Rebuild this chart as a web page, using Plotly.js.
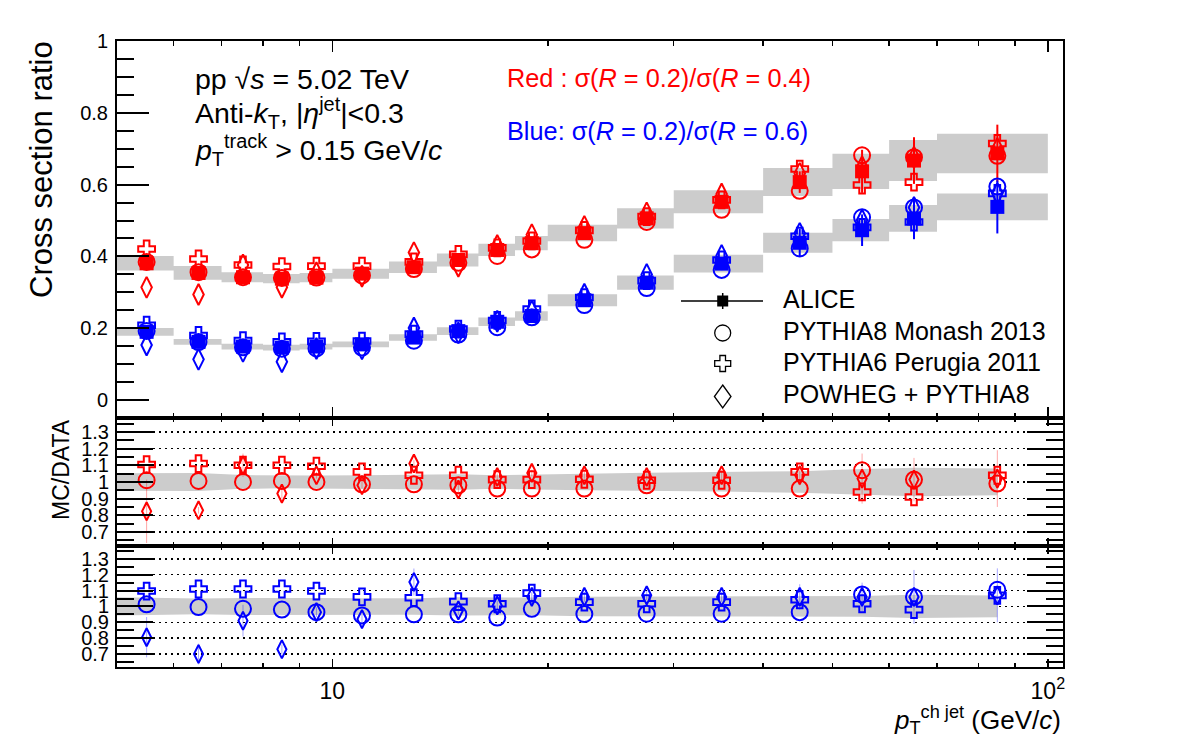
<!DOCTYPE html>
<html>
<head>
<meta charset="utf-8">
<script src="https://cdn.plot.ly/plotly-3.0.1.min.js"></script>
<style>
  html, body { margin: 0; padding: 0; background: #fff; }
  #chart { width: 1182px; height: 748px; }
</style>
</head>
<body>
<div id="chart"></div>
<script>
// Charged-jet pT bins (GeV/c)
const binLo    = [5, 6, 7, 8, 9, 10, 12, 14, 16, 18, 20, 25, 30, 40, 50, 60, 70];
const binHi    = [6, 7, 8, 9, 10, 12, 14, 16, 18, 20, 25, 30, 40, 50, 60, 70, 100];
const ptCenter = [5.5, 6.5, 7.5, 8.5, 9.5, 11, 13, 15, 17, 19, 22.5, 27.5, 35, 45, 55, 65, 85];

// ALICE: sigma(R=0.2)/sigma(R=0.4)
const aliceR04     = [0.381, 0.354, 0.342, 0.338, 0.341, 0.352, 0.370, 0.390, 0.418, 0.437, 0.465, 0.506, 0.552, 0.607, 0.637, 0.667, 0.687];
const aliceR04Stat = [0.004, 0.004, 0.004, 0.004, 0.004, 0.005, 0.006, 0.007, 0.008, 0.009, 0.010, 0.012, 0.016, 0.030, 0.060, 0.065, 0.080];
const aliceR04Sys  = [0.020, 0.019, 0.014, 0.013, 0.013, 0.014, 0.016, 0.018, 0.017, 0.020, 0.023, 0.028, 0.032, 0.039, 0.049, 0.057, 0.055];

// ALICE: sigma(R=0.2)/sigma(R=0.6)
const aliceR06     = [0.190, 0.162, 0.149, 0.146, 0.149, 0.155, 0.174, 0.192, 0.218, 0.234, 0.278, 0.327, 0.380, 0.438, 0.473, 0.506, 0.538];
const aliceR06Stat = [0.003, 0.003, 0.003, 0.003, 0.003, 0.004, 0.005, 0.006, 0.007, 0.008, 0.010, 0.012, 0.018, 0.039, 0.044, 0.058, 0.074];
const aliceR06Sys  = [0.011, 0.008, 0.008, 0.008, 0.008, 0.008, 0.009, 0.011, 0.012, 0.013, 0.017, 0.020, 0.025, 0.028, 0.031, 0.037, 0.037];

// MC / data, R=0.2 over R=0.4
const pythia8R04 = [1.010, 1.006, 1.000, 1.006, 1.000, 0.986, 0.986, 0.980, 0.960, 0.960, 0.960, 0.980, 0.960, 0.960, 1.070, 1.014, 0.990];
const pythia6R04 = [1.104, 1.110, 1.100, 1.100, 1.094, 1.060, 1.040, 1.040, 1.014, 1.014, 1.016, 1.010, 1.010, 1.060, 0.940, 0.910, 1.040];
const powhegR04  = [0.824, 0.830, 1.100, 0.930, 1.040, 0.980, 1.110, 0.955, 1.030, 1.054, 1.040, 1.030, 1.040, 1.040, 1.020, 1.014, 1.020];
const powhegR04Err = [0.190, 0.020, 0.070, 0.030, 0.020, 0.020, 0.020, 0.030, 0.020, 0.020, 0.020, 0.020, 0.030, 0.060, 0.150, 0.130, 0.170];

// MC / data, R=0.2 over R=0.6
const pythia8R06 = [1.013, 0.996, 0.985, 0.980, 0.964, 0.943, 0.950, 0.950, 0.930, 0.985, 0.952, 0.954, 0.954, 0.964, 1.076, 1.060, 1.105];
const pythia6R06 = [1.097, 1.110, 1.110, 1.110, 1.097, 1.060, 1.055, 1.030, 1.017, 1.084, 1.027, 1.017, 1.027, 1.042, 1.017, 0.980, 1.070];
const powhegR06  = [0.806, 0.700, 0.910, 0.730, 0.964, 0.920, 1.154, 0.975, 1.006, 1.060, 1.060, 1.070, 1.060, 1.060, 1.060, 1.060, 1.070];
const powhegR06Err = [0.127, 0.065, 0.100, 0.030, 0.030, 0.030, 0.085, 0.030, 0.030, 0.030, 0.030, 0.030, 0.030, 0.080, 0.090, 0.170, 0.170];

// Axis ticks and labels
const mainTickVals  = [0, 0.2, 0.4, 0.6, 0.8, 1];
const mainTickText  = ['0', '0.2', '0.4', '0.6', '0.8', '1'];
const ratioTickVals = [0.7, 0.8, 0.9, 1.0, 1.1, 1.2, 1.3];
const ratioTickText = ['0.7', '0.8', '0.9', '1', '1.1', '1.2', '1.3'];
const ptTickVals    = [10, 100];
const ptTickText    = ['10', '10<sup>2</sup>'];
const ptMinorVals   = [6, 7, 8, 9, 20, 30, 40, 50, 60, 70, 80, 90];

// Legend entries
const legendNames = ['ALICE', 'PYTHIA8 Monash 2013', 'PYTHIA6 Perugia 2011', 'POWHEG + PYTHIA8'];

// ---------------------------------------------------------------------------
const RED = '#ff0000', BLUE = '#0000ff', GREY = '#cccccc';
const FONT = 'Liberation Sans, Arial, Helvetica, sans-serif';

// Frame geometry in page pixels (used for layout placement only)
const W = 1182, H = 748, L = 117, R = 1063, T = 41, B = 667;
const px = x => (x - L) / (R - L);
const py = y => (B - y) / (B - T);

// Systematic boxes spanning each bin
function sysBoxes(val, sys) {
  const xs = [], ys = [];
  val.forEach((v, i) => {
    xs.push(binLo[i], binLo[i], binHi[i], binHi[i], binLo[i], null);
    ys.push(v - sys[i], v + sys[i], v + sys[i], v - sys[i], v - sys[i], null);
  });
  return { xs, ys };
}

// Relative systematic band around unity for the MC/data panels
function relBand(val, sys) {
  const xs = [binLo[0]].concat(ptCenter.slice(1));
  const rel = val.map((v, i) => sys[i] / v);
  const up = rel.map(r => 1 + r), lo = rel.map(r => 1 - r);
  return {
    xs: xs.concat(xs.slice().reverse()),
    ys: up.concat(lo.slice().reverse())
  };
}

const scale = (ratio, data) => ratio.map((r, i) => r * data[i]);

const traces = [];

// Top panel: systematic boxes
[[aliceR04, aliceR04Sys], [aliceR06, aliceR06Sys]].forEach(([v, s]) => {
  const b = sysBoxes(v, s);
  traces.push({
    x: b.xs, y: b.ys, xaxis: 'x', yaxis: 'y', type: 'scatter', mode: 'lines',
    fill: 'toself', fillcolor: GREY, line: { width: 0, color: GREY },
    hoverinfo: 'skip', showlegend: false
  });
});

// Ratio panels: bands
[[aliceR04, aliceR04Sys, 'x2', 'y2'], [aliceR06, aliceR06Sys, 'x3', 'y3']].forEach(([v, s, xa, ya]) => {
  const b = relBand(v, s);
  traces.push({
    x: b.xs, y: b.ys, xaxis: xa, yaxis: ya, type: 'scatter', mode: 'lines',
    fill: 'toself', fillcolor: GREY, line: { width: 0, color: GREY },
    hoverinfo: 'skip', showlegend: false
  });
});

// Top panel: ALICE points
[[aliceR04, aliceR04Stat, RED], [aliceR06, aliceR06Stat, BLUE]].forEach(([v, e, c]) => {
  traces.push({
    x: ptCenter, y: v, xaxis: 'x', yaxis: 'y', type: 'scatter', mode: 'markers',
    marker: { symbol: 'square', size: 14, color: c },
    error_y: { type: 'data', array: e, visible: true, color: c, thickness: 2, width: 0 },
    showlegend: false
  });
});

// Marker styles of the three generators
const mcStyles = [
  { symbol: 'circle-open', size: 16 },
  { symbol: 'cross-open', size: 14 },
  { symbol: 'diamond-tall-open', size: 15 }
];

// Top panel: MC predictions (ratio times data)
[[aliceR04, [pythia8R04, pythia6R04, powhegR04], RED],
 [aliceR06, [pythia8R06, pythia6R06, powhegR06], BLUE]].forEach(([data, mcs, c]) => {
  mcs.forEach((m, k) => {
    traces.push({
      x: ptCenter, y: scale(m, data), xaxis: 'x', yaxis: 'y', type: 'scatter', mode: 'markers',
      marker: { symbol: mcStyles[k].symbol, size: mcStyles[k].size, color: c, line: { width: 2, color: c } },
      showlegend: false
    });
  });
});

// Ratio panels: MC/data
[[[pythia8R04, pythia6R04, powhegR04], powhegR04Err, RED, 'rgba(255,0,0,0.35)', 'x2', 'y2'],
 [[pythia8R06, pythia6R06, powhegR06], powhegR06Err, BLUE, 'rgba(0,0,255,0.35)', 'x3', 'y3']].forEach(([mcs, err, c, fc, xa, ya]) => {
  mcs.forEach((m, k) => {
    const tr = {
      x: ptCenter, y: m, xaxis: xa, yaxis: ya, type: 'scatter', mode: 'markers',
      marker: { symbol: mcStyles[k].symbol, size: k === 2 ? 13 : mcStyles[k].size, color: c, line: { width: 2, color: c } },
      showlegend: false
    };
    if (k === 2) tr.error_y = { type: 'data', array: err, visible: true, color: fc, thickness: 1, width: 0 };
    traces.push(tr);
  });
});

// Axes
const xBase = {
  type: 'log', range: [Math.log10(5), Math.log10(105)],
  showline: true, linecolor: 'black', linewidth: 2, mirror: 'allticks',
  ticks: 'inside', tickcolor: 'black', tickwidth: 1.5,
  tickmode: 'array', tickvals: ptTickVals, ticktext: ptTickText,
  minor: { tickmode: 'array', tickvals: ptMinorVals, ticks: 'inside', ticklen: 5, tickcolor: 'black', tickwidth: 1.5 },
  showgrid: false, zeroline: false, fixedrange: true
};

const ratioY = (dom, anchor) => ({
  domain: dom, anchor: anchor, range: [0.618, 1.383],
  tickmode: 'array', tickvals: ratioTickVals, ticktext: ratioTickText,
  ticks: 'inside', ticklen: 36, tickwidth: 2, tickcolor: 'black',
  minor: { dtick: 0.05, tick0: 0, ticks: 'inside', ticklen: 17, tickwidth: 2, tickcolor: 'black' },
  showline: true, linecolor: 'black', linewidth: 2, mirror: 'allticks',
  showgrid: true, gridcolor: 'black', gridwidth: 1.5, griddash: '2px,4px',
  zeroline: false, tickfont: { family: FONT, size: 20, color: 'black' }, ticklabelstandoff: 2
});

const topDomain = [py(418), 1];
const midDomain = [py(545.7), py(418)];
const botDomain = [0, py(545.7)];

const annText = (text, x, y, size, color, opts) => Object.assign({
  text: text, x: px(x), y: py(y), xref: 'paper', yref: 'paper', showarrow: false,
  xanchor: 'left', yanchor: 'middle', font: { family: FONT, size: size, color: color || 'black' }
}, opts || {});

// Legend keys drawn as layout shapes (page-pixel placement)
const pathOf = pts => 'M' + pts.map(p => px(p[0]) + ',' + py(p[1])).join('L') + 'Z';
function crossPts(cx, cy, e, a) {
  return [[cx - a, cy - e], [cx + a, cy - e], [cx + a, cy - a], [cx + e, cy - a], [cx + e, cy + a],
          [cx + a, cy + a], [cx + a, cy + e], [cx - a, cy + e], [cx - a, cy + a], [cx - e, cy + a],
          [cx - e, cy - a], [cx - a, cy - a]];
}
function diamondPts(cx, cy, hw, hh) {
  return [[cx, cy - hh], [cx + hw, cy], [cx, cy + hh], [cx - hw, cy]];
}
const keyX = 722.7, keyRows = [301, 333, 363.5, 396.5], textRows = [298.5, 331, 362, 393.5];
const legendShapes = [
  { type: 'line', xref: 'paper', yref: 'paper', x0: px(681), x1: px(763), y0: py(keyRows[0]), y1: py(keyRows[0]),
    line: { color: 'black', width: 1.5 } },
  { type: 'line', xref: 'paper', yref: 'paper', x0: px(keyX), x1: px(keyX), y0: py(keyRows[0] - 8), y1: py(keyRows[0] + 8),
    line: { color: 'black', width: 1.5 } },
  { type: 'rect', xref: 'paper', yref: 'paper', x0: px(keyX - 5.5), x1: px(keyX + 5.5), y0: py(keyRows[0] - 5.5), y1: py(keyRows[0] + 5.5),
    fillcolor: 'black', line: { width: 0 } },
  { type: 'circle', xref: 'paper', yref: 'paper', x0: px(keyX - 8), x1: px(keyX + 8), y0: py(keyRows[1] - 8), y1: py(keyRows[1] + 8),
    line: { color: 'black', width: 1.3 } },
  { type: 'path', xref: 'paper', yref: 'paper', path: pathOf(crossPts(keyX, keyRows[2], 8, 2.8)),
    line: { color: 'black', width: 1.3 } },
  { type: 'path', xref: 'paper', yref: 'paper', path: pathOf(diamondPts(keyX, keyRows[3], 8.3, 11.5)),
    line: { color: 'black', width: 1.3 } }
];

const layout = {
  width: W, height: H,
  margin: { l: L, r: W - R, t: T, b: H - B, pad: 0 },
  paper_bgcolor: 'white', plot_bgcolor: 'rgba(0,0,0,0)',
  font: { family: FONT, color: 'black' },
  showlegend: false,
  xaxis: Object.assign({}, xBase, { domain: [0, 1], anchor: 'y', ticklen: 11, showticklabels: false }),
  xaxis2: Object.assign({}, xBase, { domain: [0, 1], anchor: 'y2', ticklen: 8, showticklabels: false,
    minor: Object.assign({}, xBase.minor, { ticklen: 4 }) }),
  xaxis3: Object.assign({}, xBase, { domain: [0, 1], anchor: 'y3', ticklen: 8, showticklabels: true,
    minor: Object.assign({}, xBase.minor, { ticklen: 4 }),
    tickfont: { family: FONT, size: 23, color: 'black' }, ticklabelstandoff: 2 }),
  yaxis: {
    domain: topDomain, anchor: 'x', range: [-0.05, 1.0],
    tickmode: 'array', tickvals: mainTickVals, ticktext: mainTickText,
    ticks: 'inside', ticklen: 32, tickwidth: 2, tickcolor: 'black',
    minor: { dtick: 0.05, tick0: 0, ticks: 'inside', ticklen: 17, tickwidth: 2, tickcolor: 'black' },
    showline: true, linecolor: 'black', linewidth: 2, mirror: true,
    showgrid: false, zeroline: false, tickfont: { family: FONT, size: 20, color: 'black' }, ticklabelstandoff: 3
  },
  yaxis2: ratioY(midDomain, 'x2'),
  yaxis3: ratioY(botDomain, 'x3'),
  shapes: legendShapes,
  annotations: [
    annText('pp √<i>s</i> = 5.02 TeV', 193, 78.5, 28.5),
    annText('Anti-<i>k</i><sub>T</sub>, |<i>η</i><sup>jet</sup>|&lt;0.3', 193, 113, 28.5),
    annText('<i>p</i><sub>T</sub><sup>track</sup> &gt; 0.15 GeV/<i>c</i>', 193, 150, 28.5),
    annText('Red : σ(<i>R</i> = 0.2)/σ(<i>R</i> = 0.4)', 505, 78, 25.3, RED),
    annText('Blue: σ(<i>R</i> = 0.2)/σ(<i>R</i> = 0.6)', 505, 131, 25.3, BLUE),
    annText('Cross section ratio', 42, 170, 31, 'black', { xanchor: 'center', textangle: -90 }),
    annText('MC/DATA', 61, 470, 23, 'black', { xanchor: 'center', textangle: -90 }),
    annText('<i>p</i><sub>T</sub><sup>ch jet</sup> (GeV/<i>c</i>)', 1063, 720, 26, 'black', { xanchor: 'right' })
  ].concat(legendNames.map((n, i) => annText(n, 781, textRows[i], 25)))
};

Plotly.newPlot('chart', traces, layout, { displayModeBar: false, staticPlot: true });
</script>
</body>
</html>
